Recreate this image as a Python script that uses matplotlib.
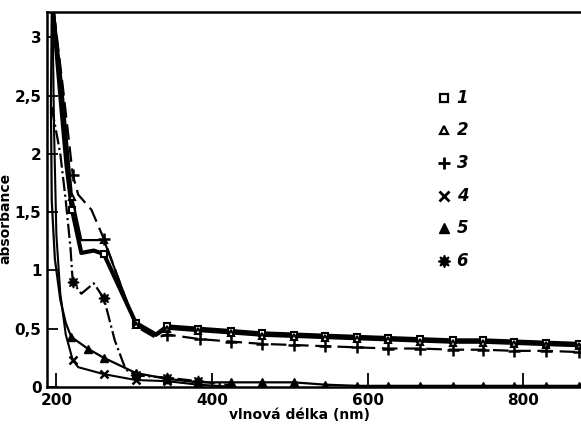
import numpy as np
import matplotlib.pyplot as plt

# values (wavelength in nm, absorbance)
x1 = [196, 205, 213, 220, 232, 248, 261, 302, 328, 342, 382, 424, 464, 505, 545, 586, 626, 667, 709, 748, 788, 829, 871, 900]
y1 = [3.2, 2.5, 1.9, 1.52, 1.15, 1.17, 1.14, 0.55, 0.45, 0.52, 0.50, 0.48, 0.46, 0.45, 0.44, 0.43, 0.42, 0.41, 0.40, 0.40, 0.39, 0.38, 0.37, 0.37]
m1 = [3, 6, 7, 9, 10, 11, 12, 13, 14, 15, 16, 17, 18, 19, 20, 21, 22]

x2 = [197, 207, 215, 220, 232, 261, 302, 328, 342, 382, 424, 464, 505, 545, 586, 626, 667, 709, 748, 788, 829, 871, 900]
y2 = [3.2, 2.6, 2.0, 1.63, 1.26, 1.26, 0.53, 0.44, 0.50, 0.48, 0.46, 0.44, 0.43, 0.42, 0.41, 0.40, 0.39, 0.38, 0.38, 0.37, 0.36, 0.35, 0.35]
m2 = [3, 5, 6, 8, 9, 10, 11, 12, 13, 14, 15, 16, 17, 18, 19, 20, 21]

x3 = [197, 208, 221, 228, 245, 261, 302, 328, 342, 385, 424, 464, 505, 545, 586, 626, 667, 709, 748, 788, 829, 871, 900]
y3 = [3.2, 2.59, 1.82, 1.65, 1.52, 1.27, 0.52, 0.42, 0.45, 0.41, 0.39, 0.37, 0.36, 0.35, 0.34, 0.33, 0.33, 0.32, 0.32, 0.31, 0.31, 0.30, 0.30]
m3 = [2, 5, 8, 9, 10, 11, 12, 13, 14, 15, 16, 17, 18, 19, 20, 21]

x4 = [195, 197, 200, 205, 212, 221, 228, 261, 302, 342, 382, 430]
y4 = [3.2, 2.2, 1.3, 0.8, 0.45, 0.23, 0.17, 0.11, 0.06, 0.05, 0.02, 0.0]
m4 = [5, 7, 8, 9]

x5 = [194, 193, 194, 198, 205, 212, 219, 240, 261, 302, 342, 382, 424, 464, 505, 545, 586, 626, 667, 709, 748, 788, 829, 871, 900]
y5 = [3.2, 2.4, 1.6, 1.1, 0.75, 0.55, 0.43, 0.33, 0.25, 0.12, 0.07, 0.04, 0.04, 0.04, 0.04, 0.02, 0.01, 0.01, 0.01, 0.01, 0.01, 0.01, 0.01, 0.01, 0.01]
m5 = list(range(6, 24))

x6 = [194, 205, 212, 218, 221, 232, 248, 261, 275, 289, 302, 342, 382, 430]
y6 = [2.4, 2.0, 1.6, 1.2, 0.90, 0.80, 0.89, 0.76, 0.40, 0.15, 0.10, 0.08, 0.05, 0.01]
m6 = [4, 7, 10, 11, 12]

legend_labels = ['1', '2', '3', '4', '5', '6']

plt.rcParams['font.family'] = 'DejaVu Sans'
plt.rcParams['font.weight'] = 'bold'

fig = plt.figure(figsize=(5.81, 4.30), dpi=100)
ax = fig.add_axes([0.081, 0.1, 0.95, 0.872])

ax.plot(x1, y1, color='black', lw=3.0, marker='s', ms=5, mfc='white', mew=1.5, markevery=m1)
ax.plot(x2, y2, color='black', lw=1.6, marker='^', ms=5, mfc='white', mew=1.5, markevery=m2)
ax.plot(x3, y3, color='black', lw=1.6, ls=(0, (7, 3)), marker='+', ms=8, mew=1.8, markevery=m3)
ax.plot(x4, y4, color='black', lw=1.5, marker='x', ms=6, mew=1.8, markevery=m4)
ax.plot(x5, y5, color='black', lw=1.6, marker='^', ms=6, mew=1.0, markevery=m5)
ax.plot(x6, y6, color='black', lw=1.6, ls='-.', marker=(8, 1, 0), ms=8, markevery=m6)

# legend drawn as marker + number, like the original
leg_markers = [dict(marker='s', ms=6, mfc='white', mew=1.6),
               dict(marker='^', ms=6, mfc='white', mew=1.6),
               dict(marker='+', ms=9, mew=2.0),
               dict(marker='x', ms=7, mew=2.0),
               dict(marker='^', ms=7),
               dict(marker=(8, 1, 0), ms=9)]
for i, (lab, mk) in enumerate(zip(legend_labels, leg_markers)):
    yy = 0.771 - i * 0.0868
    ax.plot([0.720], [yy], color='black', ls='none', transform=ax.transAxes, clip_on=False, **mk)
    ax.text(0.742, yy, lab, transform=ax.transAxes, fontsize=12, style='italic',
            fontweight='bold', va='center', ha='left')

ax.set_xlim(188, 897)
ax.set_ylim(0, 3.216)
ax.set_xticks([200, 400, 600, 800])
ax.set_xticklabels(['200', '400', '600', '800'])
ax.set_yticks([0, 0.5, 1, 1.5, 2, 2.5, 3])
ax.set_yticklabels(['0', '0,5', '1', '1,5', '2', '2,5', '3'])
ax.tick_params(direction='in', length=8, width=1.3, labelsize=11, pad=4)
ax.tick_params(axis='x', length=10)

for s in ['left', 'bottom', 'top']:
    ax.spines[s].set_linewidth(1.8)
ax.spines['right'].set_visible(False)

ax.set_xlabel('vlnová délka (nm)', fontsize=10, fontweight='bold')
ax.xaxis.set_label_coords(0.458, -0.055)
ax.set_ylabel('absorbance', fontsize=10, fontweight='bold')
ax.yaxis.set_label_coords(-0.062, 0.45)

fig.savefig('out.png', dpi=100)
